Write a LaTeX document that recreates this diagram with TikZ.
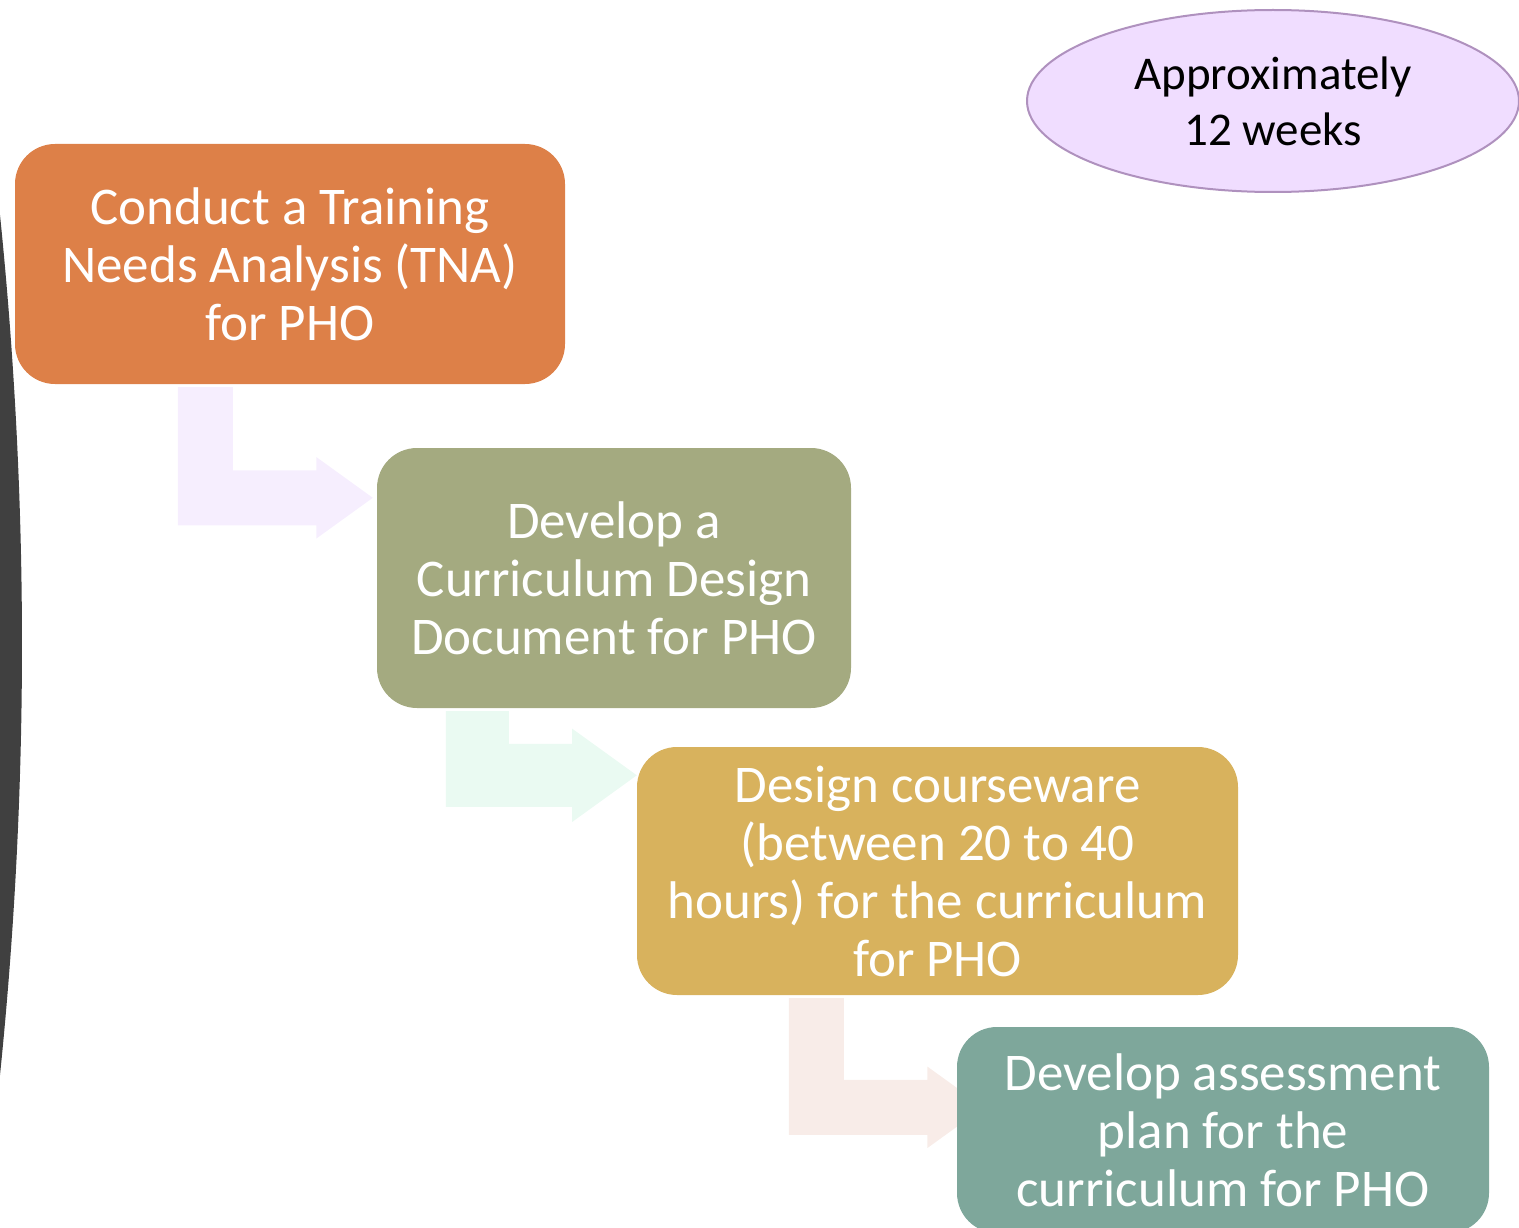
\documentclass[tikz,border=0pt]{standalone}
\usepackage{fontspec}
\setmainfont{Carlito}
\usepackage{tikz}
\usetikzlibrary{shapes.geometric,calc,backgrounds}

\definecolor{tnaorange}{RGB}{221,128,72}
\definecolor{cddolive}{RGB}{164,170,128}
\definecolor{cwgold}{RGB}{216,178,93}
\definecolor{asteal}{RGB}{126,167,155}
\definecolor{durfill}{RGB}{240,221,255}
\definecolor{durline}{RGB}{175,145,190}
\definecolor{arrowlav}{RGB}{246,238,254}
\definecolor{arrowmint}{RGB}{234,250,242}
\definecolor{arrowblush}{RGB}{248,236,232}
\definecolor{sidegray}{RGB}{64,64,64}

% bent block arrow: style, top of the bar, tip, half bar width
\newcommand{\bentarrow}[4]{%
  \fill[#1] let \p1=(#2), \p2=(#3) in
    (\x1-#4,\y1) -- (\x1+#4,\y1) -- (\x1+#4,\y2+#4) -- (\x2-2.05*#4,\y2+#4)
    -- (\x2-2.05*#4,\y2+1.48*#4) -- (\x2,\y2) -- (\x2-2.05*#4,\y2-1.48*#4)
    -- (\x2-2.05*#4,\y2-#4) -- (\x1-#4,\y2-#4) -- cycle;}

\begin{document}
\begin{tikzpicture}[
    x=1pt, y=-1pt,
    stepbox/.style={rectangle, rounded corners=40pt, inner sep=0pt, align=center,
      text=white, font=\fontsize{53}{58}\selectfont},
    durbox/.style={ellipse, draw=durline, line width=2pt, fill=durfill, inner sep=0pt,
      align=center, font=\fontsize{47}{56}\selectfont}
]
\useasboundingbox (0,0) rectangle (1519,1228);

% Side bar
\fill[sidegray] (0,215) .. controls (29.3,502) and (29.3,788) .. (0,1075) -- cycle;

% Steps
\node[stepbox, fill=tnaorange, minimum width=550pt, minimum height=240pt] (tna) at (290,264)
  {Conduct a Training\\Needs Analysis (TNA)\\for PHO};
\node[stepbox, fill=cddolive, minimum width=474pt, minimum height=260pt] (cdd) at (614,578)
  {Develop a\\Curriculum Design\\Document for PHO};
\node[stepbox, fill=cwgold, minimum width=601pt, minimum height=248pt] (courseware) at (937.5,871)
  {Design courseware\\(between 20 to 40\\hours) for the curriculum\\for PHO};
\node[stepbox, fill=asteal, minimum width=532pt, minimum height=206pt] (assessment) at (1223,1130)
  {Develop assessment\\plan for the\\curriculum for PHO};

% Duration
\node[durbox, minimum width=492pt, minimum height=182pt] (duration) at (1273,101)
  {Approximately\\12 weeks};

% Arrows between steps
\coordinate (a1) at ($(tna.south west)+(190.5,3)$);
\coordinate (t1) at ($(cdd.north west)+(-4,50)$);
\coordinate (a2) at ($(cdd.south west)+(100.5,3)$);
\coordinate (t2) at ($(courseware.north west)+(0,28.5)$);
\coordinate (a3) at ($(courseware.south west)+(179.5,3)$);
\coordinate (t3) at ($(assessment.north west)+(27,80.5)$);
\begin{scope}[on background layer]
  \bentarrow{arrowlav}{a1}{t1}{27.5pt}
  \bentarrow{arrowmint}{a2}{t2}{31.5pt}
  \bentarrow{arrowblush}{a3}{t3}{27.5pt}
\end{scope}

\end{tikzpicture}
\end{document}
